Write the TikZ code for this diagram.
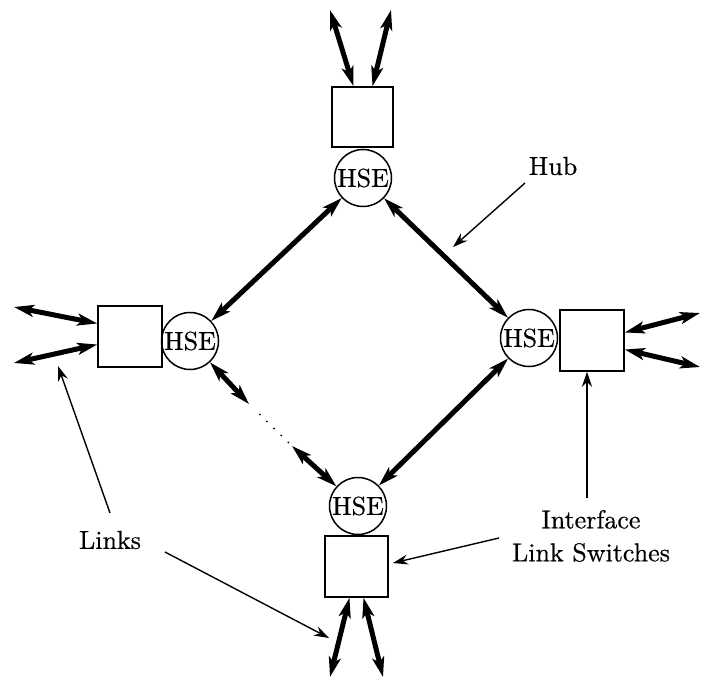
\documentclass[tikz,border=0pt]{standalone}
\usepackage{fontspec}
\setmainfont{lmroman10-regular.otf}[FakeBold=0.6]
\usetikzlibrary{arrows.meta,calc}
\begin{document}
\begin{tikzpicture}[x=1pt,y=-1pt,
  hse/.style={circle,draw,line width=1.5pt,inner sep=0pt,minimum size=57pt,fill=white,font=\fontsize{26}{30}\selectfont},
  ils/.style={rectangle,draw,line width=1.5pt,minimum width=62pt,minimum height=60pt,inner sep=0pt},
  lbl/.style={font=\fontsize{26}{31}\selectfont,align=center},
  thick link/.style={line width=5pt,{Stealth[length=20pt,width=12pt,inset=5pt]}-{Stealth[length=20pt,width=12pt,inset=5pt]}},
  pointer/.style={line width=1.4pt,-{Stealth[length=15pt,width=10pt,inset=5pt]}},
  dots/.style={line width=2pt,line cap=round,dash pattern=on 0pt off 10pt}]
\useasboundingbox (0,0) rectangle (702,679);

% HSE circles
\node[hse] (ht) at (363,178) {HSE};
\node[hse] (hl) at (190,341) {HSE};
\node[hse] (hr) at (529,338) {HSE};
\node[hse] (hb) at (358,506) {HSE};

% interface link switch boxes
\node[ils,minimum width=61pt,minimum height=60pt] (bt) at (362.5,117) {};
\node[ils,minimum width=64pt,minimum height=61pt] (bl) at (130,336.5) {};
\node[ils,minimum width=64pt,minimum height=61pt] (br) at (592,340.5) {};
\node[ils,minimum width=63pt,minimum height=61pt] (bb) at (356.5,566.5) {};

% hub connections
\draw[thick link] (ht) -- (hl);
\draw[thick link] (ht) -- (hr);
\draw[thick link] (hr) -- (hb);
\coordinate (brkA) at (249,404);
\coordinate (brkB) at (292,446);
\draw[thick link] (hl) -- (brkA);
\draw[thick link] (brkB) -- (hb);
\draw[dots] ($(brkA)!0.25!(brkB)$) -- ($(brkA)!0.95!(brkB)$);

% external links
\coordinate (t1) at (330,10);
\coordinate (t2) at (391,10);
\draw[thick link] (t1) -- ($(bt.north)+(-9,0)$);
\draw[thick link] (t2) -- ($(bt.north)+(10,0)$);
\coordinate (l1) at (14,307);
\coordinate (l2) at (14,363);
\draw[thick link] (l1) -- ($(bl.west)+(0,-13)$);
\draw[thick link] (l2) -- ($(bl.west)+(0,8)$);
\coordinate (r1) at (700,313);
\coordinate (r2) at (700,367);
\draw[thick link] ($(br.east)+(0,-8)$) -- (r1);
\draw[thick link] ($(br.east)+(0,9)$) -- (r2);
\coordinate (b1) at (330,677);
\coordinate (b2) at (383,677);
\draw[thick link] ($(bb.south)+(-7,0)$) -- (b1);
\draw[thick link] ($(bb.south)+(7,0)$) -- (b2);

% labels
\node[lbl] (hub) at (553,166) {Hub};
\node[lbl] (links) at (110,540) {Links};
\node[lbl] (ilsw) at (591,536) {Interface\\[2pt]Link Switches};

% pointers
\coordinate (hubtip) at (453,247);
\draw[pointer] (525,183) coordinate (hubs) -- (hubtip);
\draw[pointer] (110,513) coordinate (ls1) -- (58,366) coordinate (lt1);
\draw[pointer] (165,552) coordinate (ls2) -- (329,638) coordinate (lt2);
\draw[pointer] (587,498) coordinate (is1) -- (br.south -| is1);
\draw[pointer] (499,538) coordinate (is2) -- (393,563) coordinate (it2);
\end{tikzpicture}
\end{document}
